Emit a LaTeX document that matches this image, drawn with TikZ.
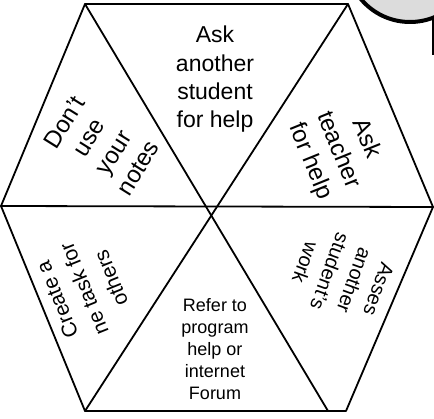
\documentclass[tikz,border=0pt]{standalone}
\usepackage{fontspec}
\setmainfont{Liberation Sans}
\definecolor{circfill}{RGB}{220,220,220}
\begin{document}
\begin{tikzpicture}[x=1pt,y=-1pt,
  edge/.style={line width=1.8pt, line cap=round, line join=round},
  lbl/.style={inner sep=0pt, align=center, text=black}]
\useasboundingbox (0,0) rectangle (434,419);
\begin{scope}
  \clip (0,0) rectangle (434,419);
  \draw[line width=4pt, fill=circfill] (410,-42) circle[radius=64];
\end{scope}
\coordinate (TL) at (85,4);
\coordinate (TR) at (348,4);
\coordinate (R) at (433,207);
\coordinate (BR) at (346,411);
\coordinate (BL) at (85,411);
\coordinate (L) at (1,206);
\coordinate (C1) at (328,411);
\coordinate (bar0) at (433,17.7);
\coordinate (bar1) at (433,55);
\draw[edge] (TL) -- (TR) -- (R) -- (BR) -- (BL) -- (L) -- cycle;
\draw[edge] (L) -- (R);
\draw[edge] (TL) -- (C1);
\draw[edge] (TR) -- (BL);
\draw[line width=2pt] (bar0) -- (bar1);
\node[lbl, font=\fontsize{23}{28.3}\selectfont] (t1) at (215,79.5) {Ask\\another\\student\\for help};
\node[lbl, font=\fontsize{18}{22}\selectfont] (t2) at (215,349.3) {Refer to\\program\\help or\\internet\\Forum};
\node[lbl, font=\fontsize{24}{29}\selectfont, rotate=58] (t3) at (101,145) {Don’t\\use\\your\\notes};
\node[lbl, font=\fontsize{24}{30}\selectfont, rotate=-68] (t4) at (338,150) {Ask\\teacher\\for help};
\node[lbl, font=\fontsize{20}{26}\selectfont, rotate=-110] (t5) at (342,276) {Asses\\another\\student's\\work};
\node[lbl, font=\fontsize{21}{29}\selectfont, rotate=112] (t6) at (84,289) {Create a\\ne task for\\others};
\end{tikzpicture}
\end{document}
